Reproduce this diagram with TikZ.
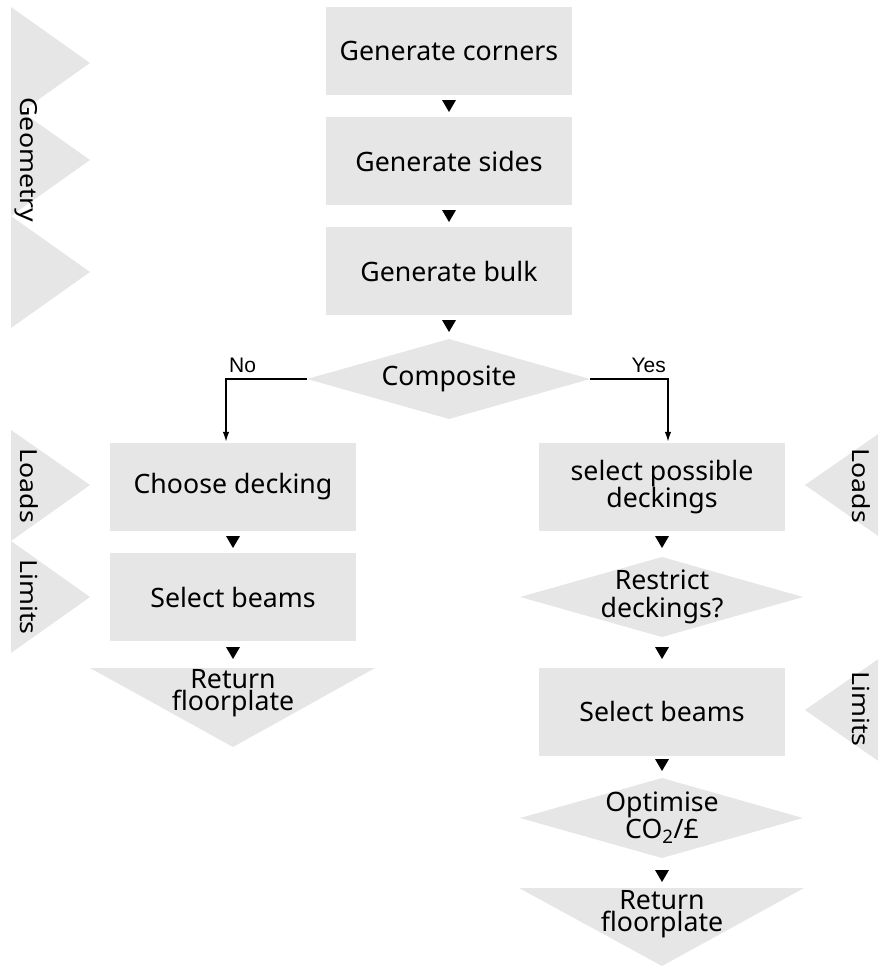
\documentclass[tikz,border=0pt]{standalone}
\usepackage{fontspec}
\setmainfont{Noto Sans}
\newfontfamily\labfont{Liberation Sans}
\usetikzlibrary{arrows.meta}
\definecolor{boxgray}{HTML}{E6E6E6}
\newcommand\mainfnt{\fontsize{26.7}{27.5}\selectfont}
\newcommand\tightfnt{\fontsize{26.7}{22}\selectfont}
\begin{document}
\begin{tikzpicture}[x=1pt,y=-1pt,
  box/.style={fill=boxgray,minimum width=246pt,minimum height=88pt,inner sep=0pt,align=center,font=\mainfnt},
  txt/.style={inner sep=0pt,align=center,font=\mainfnt},
  tighttxt/.style={inner sep=0pt,align=center,font=\tightfnt},
  sidelab/.style={inner sep=0pt,anchor=base,rotate=-90,font=\mainfnt},
  yesno/.style={inner sep=0pt,font=\labfont\fontsize{21}{21}\selectfont},
  flow/.style={line width=2.3pt,-{Latex[length=11pt,width=6.5pt]}},
  dnarrow/.pic={\fill (-7,-6) -- (7,-6) -- (0,6) -- cycle;}
]
\useasboundingbox (0,0) rectangle (878,966);
\clip (0,0) rectangle (878,966);

% side triangles (left)
\fill[boxgray] (11,7) -- (90,63) -- (11,119) -- cycle;
\fill[boxgray] (11,104) -- (90,160) -- (11,216) -- cycle;
\fill[boxgray] (11,216) -- (90,272) -- (11,328) -- cycle;
\fill[boxgray] (11,430) -- (90,485) -- (11,541) -- cycle;
\fill[boxgray] (11,541) -- (90,597) -- (11,653) -- cycle;
% side triangles (right)
\fill[boxgray] (884,430) -- (805,485) -- (884,540) -- cycle;
\fill[boxgray] (884,655) -- (805,710) -- (884,765) -- cycle;

\node[sidelab] (geo) at (20,160) {\scalebox{1}[0.88]{Geometry}};
\node[sidelab] (loadsL) at (20,486) {\scalebox{1}[0.88]{Loads}};
\node[sidelab] (limitsL) at (20,597) {\scalebox{1}[0.88]{Limits}};
\node[sidelab] (loadsR) at (852,486) {\scalebox{1}[0.88]{Loads}};
\node[sidelab] (limitsR) at (852,709) {\scalebox{1}[0.88]{Limits}};

% main column
\node[box] (gc) at (449,51) {Generate corners};
\pic at (449,106) {dnarrow};
\node[box] (gs) at (449,161) {Generate sides};
\pic at (449,216) {dnarrow};
\node[box] (gb) at (449,271) {Generate bulk};
\pic at (449,326) {dnarrow};

% composite diamond
\fill[boxgray] (307,379) -- (449,339) -- (590,379) -- (449,419) -- cycle;
\node[txt] (comp) at (449,379) {Composite};
\coordinate (compW) at (307,379);
\coordinate (compE) at (590,379);
\coordinate (noC) at (226,379);
\coordinate (yesC) at (668,379);

% left branch
\node[box] (choose) at (233,487) {Choose decking};
\pic at (233,542) {dnarrow};
\node[box] (selL) at (233,597) {Select beams};
\pic at (233,653) {dnarrow};
\fill[boxgray] (90,668) -- (375,668) -- (233,747) -- cycle;
\node[tighttxt] (retL) at (233,693) {Return\\floorplate};

% right branch
\node[box] (selpos) at (662,487) {select possible\\deckings};
\pic at (662,542) {dnarrow};
\fill[boxgray] (520,597) -- (662,557) -- (803,597) -- (662,637) -- cycle;
\node[txt] (restrict) at (662,597) {Restrict\\deckings?};
\pic at (662,653) {dnarrow};
\node[box] (selR) at (662,711.5) {Select beams};
\pic at (662,765) {dnarrow};
\fill[boxgray] (520,818) -- (662,778) -- (803,818) -- (662,858) -- cycle;
\node[tighttxt] (opt) at (662,818) {Optimise\\CO\textsubscript{2}/£};
\pic at (662,876) {dnarrow};
\fill[boxgray] (519,888) -- (804,888) -- (662,966) -- cycle;
\node[tighttxt] (retR) at (662,914) {Return\\floorplate};

% branch connectors
\draw[flow] (compW) -- (noC) -- (noC |- choose.north);
\draw[flow] (compE) -- (yesC) -- (yesC |- selpos.north);
\node[yesno,anchor=base west] (nolab) at (229,372) {No};
\node[yesno,anchor=base east] (yeslab) at (666,372) {Yes};
\end{tikzpicture}
\end{document}
